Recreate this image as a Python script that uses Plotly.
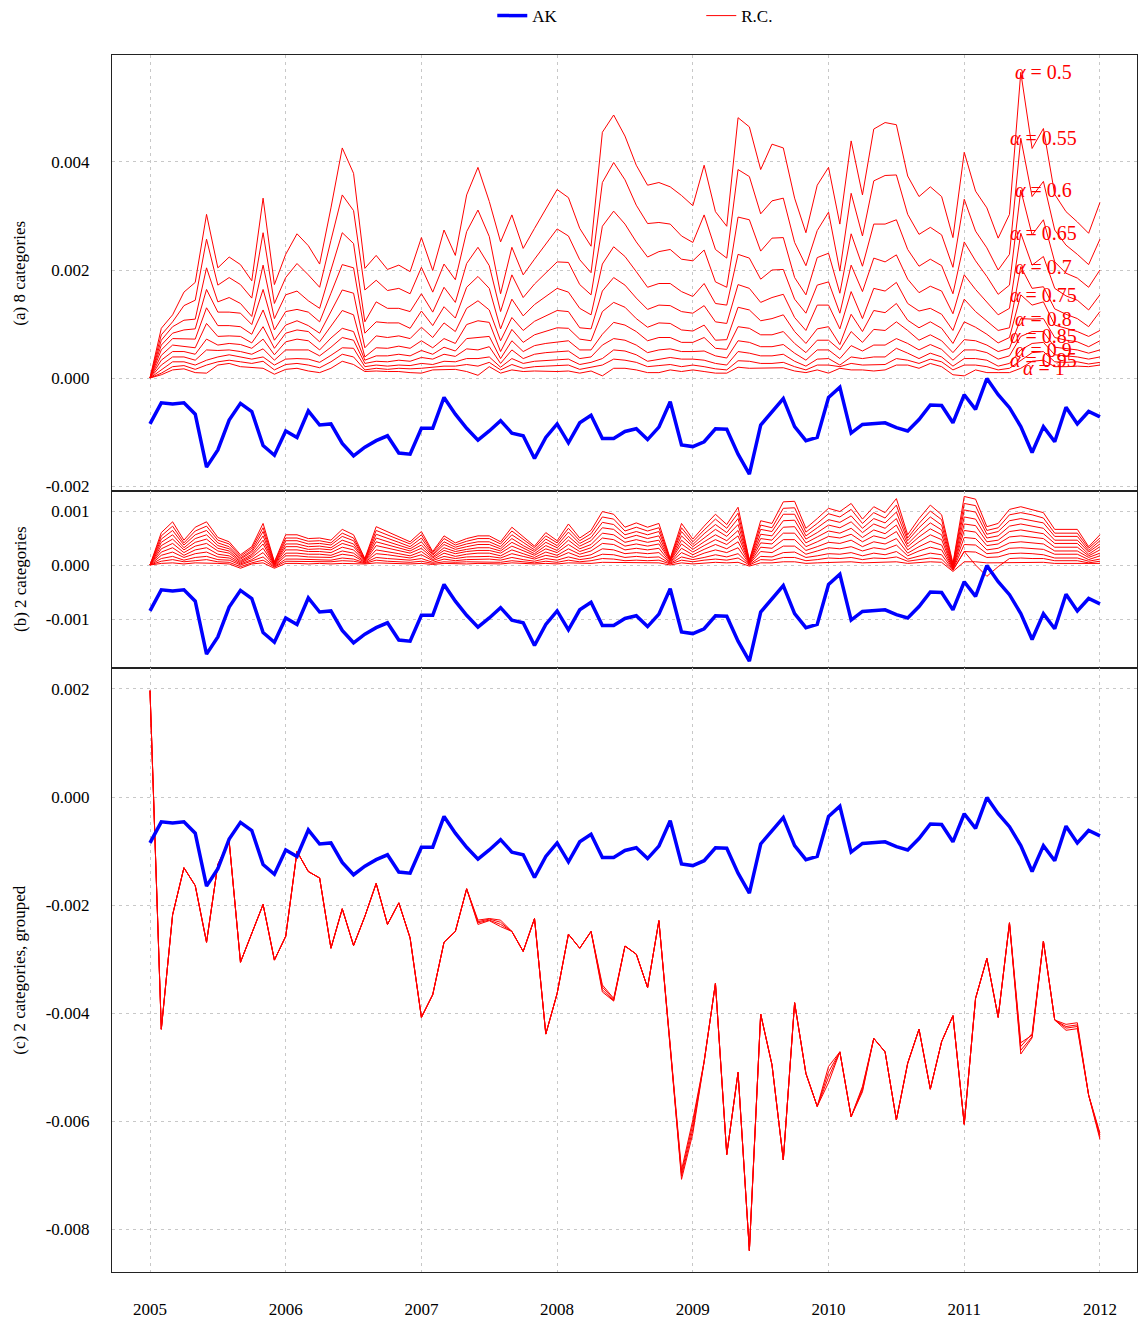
import plotly.graph_objects as go

# ---------------- data (values in units of 1e-5) ----------------
months = [2005 + i / 12 for i in range(85)]  # Jan 2005 .. Jan 2012, monthly
year_ticks = [2005, 2006, 2007, 2008, 2009, 2010, 2011, 2012]
year_labels = ["2005", "2006", "2007", "2008", "2009", "2010", "2011", "2012"]

ak = [-85, -46, -48, -46, -67, -165, -133, -78, -47, -62,
      -125, -143, -98, -110, -61, -87, -85, -121, -144, -128,
      -116, -107, -139, -141, -93, -93, -36, -67, -93, -115,
      -98, -79, -102, -107, -149, -110, -85, -120, -83, -69,
      -112, -112, -99, -94, -114, -91, -44, -124, -127, -118,
      -94, -95, -141, -178, -87, -62, -38, -90, -116, -110,
      -36, -17, -102, -86, -85, -83, -92, -98, -77, -50,
      -51, -83, -31, -58, -1, -31, -55, -90, -138, -90,
      -118, -54, -85, -62, -72]

# panel (a): R.C., 8 categories, one series per alpha
rc_a_050 = [0, 92, 117, 159, 177, 303, 204, 224, 210, 180, 333, 173, 229, 267, 245, 211, 315, 426, 379, 203,
            227, 201, 209, 197, 260, 199, 274, 227, 339, 390, 327, 252, 302, 240, 277, 313, 349, 334, 277, 244,
            455, 487, 448, 394, 357, 362, 354, 338, 319, 394, 308, 281, 482, 465, 386, 433, 426, 333, 269, 357,
            390, 285, 439, 339, 461, 473, 469, 374, 336, 354, 336, 260, 418, 346, 315, 259, 303, 566, 425, 462,
            340, 308, 289, 268, 325]
rc_a_055 = [0, 80, 104, 134, 144, 257, 172, 186, 173, 148, 269, 138, 186, 212, 191, 168, 255, 339, 310, 163,
            181, 162, 166, 156, 205, 159, 211, 182, 271, 311, 262, 156, 242, 191, 220, 248, 276, 263, 219, 195,
            362, 399, 367, 320, 286, 288, 285, 263, 251, 302, 238, 222, 386, 373, 304, 328, 333, 251, 208, 273,
            307, 198, 342, 263, 365, 375, 376, 303, 266, 279, 265, 205, 331, 272, 241, 200, 229, 444, 336, 364,
            274, 246, 229, 210, 257]
rc_a_060 = [0, 70, 95, 107, 109, 204, 141, 149, 138, 114, 209, 110, 154, 161, 143, 129, 200, 269, 249, 104,
            141, 129, 129, 123, 156, 122, 168, 140, 212, 242, 208, 123, 191, 149, 174, 195, 215, 214, 173, 154,
            281, 309, 285, 252, 224, 234, 238, 220, 217, 237, 178, 168, 298, 293, 235, 259, 260, 186, 154, 223,
            231, 157, 267, 207, 285, 285, 293, 238, 207, 220, 208, 156, 252, 217, 188, 155, 172, 348, 265, 293,
            215, 194, 185, 168, 200]
rc_a_065 = [0, 61, 83, 89, 91, 164, 122, 122, 120, 99, 164, 89, 123, 127, 122, 104, 157, 210, 204, 83,
            104, 102, 102, 92, 124, 97, 132, 111, 168, 188, 166, 91, 146, 115, 136, 151, 166, 159, 129, 117,
            211, 243, 225, 197, 168, 175, 175, 160, 151, 175, 138, 135, 229, 222, 183, 200, 201, 146, 120, 172,
            178, 120, 209, 160, 222, 215, 228, 183, 158, 170, 161, 119, 191, 164, 141, 117, 129, 268, 209, 225,
            166, 152, 144, 126, 154]
rc_a_070 = [0, 52, 73, 73, 72, 130, 97, 97, 95, 81, 126, 70, 98, 106, 97, 83, 122, 163, 157, 56,
            78, 75, 78, 73, 94, 75, 102, 86, 129, 143, 126, 69, 112, 88, 105, 115, 125, 123, 93, 91,
            161, 186, 172, 148, 127, 135, 134, 123, 120, 134, 104, 101, 173, 166, 140, 149, 155, 112, 88, 135,
            135, 91, 160, 110, 166, 161, 177, 138, 124, 129, 118, 88, 146, 123, 106, 88, 93, 206, 166, 169,
            128, 118, 110, 95, 123]
rc_a_075 = [0, 42, 61, 59, 56, 101, 77, 78, 77, 65, 95, 55, 83, 89, 86, 67, 95, 125, 117, 39,
            56, 55, 59, 55, 69, 56, 73, 64, 99, 106, 103, 49, 90, 66, 80, 87, 93, 92, 72, 69,
            123, 140, 131, 110, 94, 102, 101, 89, 87, 98, 70, 71, 131, 126, 106, 110, 117, 86, 64, 91,
            95, 62, 118, 86, 125, 121, 138, 107, 93, 104, 92, 64, 104, 94, 81, 65, 75, 154, 135, 141,
            98, 92, 86, 77, 88]
rc_a_080 = [0, 33, 49, 49, 44, 72, 61, 64, 62, 55, 72, 43, 67, 72, 69, 52, 74, 92, 86, 33,
            41, 41, 44, 41, 51, 44, 57, 50, 73, 75, 77, 36, 69, 49, 60, 64, 67, 69, 52, 52,
            81, 103, 98, 86, 69, 75, 75, 66, 66, 75, 55, 53, 95, 92, 80, 80, 86, 64, 47, 70,
            70, 52, 86, 66, 90, 88, 104, 88, 70, 80, 69, 47, 71, 69, 61, 49, 55, 110, 109, 110,
            75, 70, 67, 58, 69]
rc_a_085 = [0, 24, 39, 39, 33, 52, 51, 52, 49, 44, 54, 33, 52, 52, 52, 41, 57, 75, 70, 27,
            31, 30, 33, 31, 38, 35, 44, 40, 54, 52, 58, 27, 52, 36, 44, 47, 49, 50, 36, 39,
            61, 73, 70, 61, 47, 52, 54, 49, 49, 50, 41, 37, 69, 66, 58, 58, 62, 46, 33, 52,
            52, 36, 60, 50, 61, 61, 73, 64, 52, 62, 53, 33, 52, 52, 47, 35, 41, 77, 86, 86,
            57, 55, 52, 46, 52]
rc_a_090 = [0, 15, 30, 30, 24, 33, 39, 43, 39, 35, 39, 24, 35, 36, 35, 29, 42, 56, 55, 21,
            24, 22, 24, 23, 27, 25, 31, 30, 36, 36, 39, 20, 36, 27, 31, 32, 33, 35, 25, 29,
            36, 52, 50, 43, 31, 35, 38, 35, 35, 33, 27, 24, 49, 46, 41, 41, 44, 31, 22, 35,
            36, 24, 39, 36, 39, 39, 55, 46, 36, 46, 39, 22, 36, 36, 33, 22, 27, 52, 64, 66,
            43, 41, 39, 35, 39]
rc_a_095 = [0, 9, 21, 23, 16, 24, 30, 33, 30, 27, 31, 15, 25, 27, 24, 19, 30, 44, 39, 15,
            18, 16, 18, 17, 18, 20, 22, 22, 25, 22, 29, 15, 25, 18, 21, 22, 23, 24, 16, 20,
            24, 35, 33, 29, 21, 23, 25, 21, 24, 21, 17, 15, 32, 31, 27, 27, 29, 21, 15, 24,
            24, 21, 27, 24, 24, 25, 36, 33, 27, 35, 30, 15, 24, 24, 21, 15, 18, 33, 47, 49,
            30, 29, 30, 26, 29]
rc_a_100 = [0, 6, 15, 17, 10, 9, 24, 27, 21, 19, 18, 7, 16, 18, 13, 10, 18, 31, 25, 12,
            13, 12, 12, 10, 9, 15, 15, 16, 12, 5, 21, 9, 15, 12, 13, 12, 12, 13, 9, 13,
            4, 18, 18, 15, 10, 10, 15, 12, 15, 12, 9, 9, 20, 18, 18, 18, 19, 13, 10, 15,
            9, 18, 15, 15, 13, 15, 24, 24, 18, 27, 21, 6, 4, 15, 10, 10, 10, 18, 31, 33,
            21, 21, 22, 21, 24]
alpha_labels = ["0.5", "0.55", "0.6", "0.65", "0.7", "0.75", "0.8", "0.85", "0.9", "0.95", "1"]
label_month = 77  # month whose value each alpha label sits at (Jun 2011 peak)

# panel (b): R.C., 2 categories
rc_b_1 = [0, 60, 80, 46, 70, 80, 51, 43, 19, 34, 77, 6, 56, 56, 49, 50, 46, 66, 56, 12,
          71, 62, 52, 43, 62, 25, 54, 41, 49, 54, 54, 43, 70, 52, 35, 60, 45, 76, 50, 64,
          99, 94, 70, 78, 70, 77, 12, 77, 48, 72, 94, 75, 107, 9, 82, 77, 117, 118, 68, 86,
          105, 99, 114, 85, 108, 97, 123, 56, 86, 111, 93, 3, 127, 122, 71, 77, 103, 108, 103, 97,
          66, 66, 66, 34, 56]
rc_b_2 = [0, 54, 72, 41, 63, 72, 46, 39, 16, 31, 69, 5, 50, 50, 44, 45, 41, 59, 50, 11,
          64, 56, 47, 39, 56, 23, 49, 37, 44, 49, 49, 39, 63, 47, 32, 54, 41, 68, 45, 58,
          89, 85, 63, 70, 63, 69, 11, 69, 43, 65, 85, 68, 96, 8, 74, 69, 105, 106, 61, 77,
          95, 89, 103, 77, 97, 87, 111, 50, 77, 100, 84, 1, 114, 110, 64, 69, 93, 97, 93, 87,
          59, 59, 59, 31, 50]
rc_b_3 = [0, 48, 64, 37, 56, 64, 41, 34, 13, 27, 62, 3, 45, 45, 39, 40, 37, 53, 45, 10,
          57, 50, 42, 34, 50, 20, 43, 33, 39, 43, 43, 34, 56, 42, 28, 48, 36, 61, 40, 51,
          79, 75, 56, 62, 56, 62, 10, 62, 38, 58, 75, 60, 86, 7, 66, 62, 94, 94, 54, 69,
          84, 79, 91, 68, 86, 78, 98, 45, 69, 89, 74, -1, 102, 98, 57, 62, 82, 86, 82, 78,
          53, 53, 53, 27, 45]
rc_b_4 = [0, 42, 56, 32, 49, 56, 36, 30, 11, 24, 54, 2, 39, 39, 34, 35, 32, 46, 39, 9,
          50, 43, 36, 30, 43, 18, 38, 29, 34, 38, 38, 30, 49, 36, 25, 42, 32, 53, 35, 45,
          69, 66, 49, 55, 49, 54, 9, 54, 34, 50, 66, 53, 75, 6, 57, 54, 82, 83, 48, 60,
          74, 69, 80, 60, 76, 68, 86, 39, 60, 78, 65, -3, 89, 85, 50, 54, 72, 76, 72, 68,
          46, 46, 46, 24, 39]
rc_b_5 = [0, 36, 48, 28, 42, 48, 31, 26, 8, 20, 46, 1, 34, 34, 29, 30, 28, 40, 34, 8,
          43, 37, 31, 26, 37, 15, 32, 25, 29, 32, 32, 26, 42, 31, 21, 36, 27, 46, 30, 38,
          59, 56, 42, 47, 42, 46, 8, 46, 29, 43, 56, 45, 64, 5, 49, 46, 70, 71, 41, 52,
          63, 59, 68, 51, 65, 58, 74, 34, 52, 67, 56, -5, 76, 73, 43, 46, 62, 65, 62, 58,
          40, 40, 40, 20, 34]
rc_b_6 = [0, 30, 40, 23, 35, 40, 26, 22, 6, 17, 39, 0, 28, 28, 25, 25, 23, 33, 28, 7,
          36, 31, 26, 22, 31, 13, 27, 21, 25, 27, 27, 22, 35, 26, 18, 30, 23, 38, 25, 32,
          50, 47, 35, 39, 35, 39, 7, 39, 24, 36, 47, 38, 54, 4, 41, 39, 59, 59, 34, 43,
          53, 50, 57, 43, 54, 49, 62, 28, 43, 56, 47, -6, 64, 61, 36, 39, 52, 54, 52, 49,
          33, 33, 33, 17, 28]
rc_b_7 = [0, 24, 32, 18, 28, 32, 20, 17, 4, 14, 31, -1, 22, 22, 20, 20, 18, 26, 22, 6,
          28, 25, 21, 17, 25, 10, 22, 16, 20, 22, 22, 17, 28, 21, 14, 24, 18, 30, 20, 26,
          40, 38, 28, 31, 28, 31, 5, 31, 19, 29, 38, 30, 43, 3, 33, 31, 47, 47, 27, 34,
          42, 40, 46, 34, 43, 39, 49, 22, 34, 44, 37, -7, 51, 49, 28, 31, 41, 43, 41, 39,
          26, 26, 26, 14, 22]
rc_b_8 = [0, 18, 24, 14, 21, 24, 15, 13, 2, 10, 23, -2, 17, 17, 15, 15, 14, 20, 17, 5,
          21, 19, 16, 13, 19, 8, 16, 12, 15, 16, 16, 13, 21, 16, 11, 18, 14, 23, 15, 19,
          30, 28, 21, 23, 21, 23, 4, 23, 14, 22, 28, 23, 32, 2, 25, 23, 35, 35, 20, 26,
          32, 30, 34, 26, 32, 29, 37, 17, 26, 33, 28, -8, 38, 37, 21, 23, 31, 32, 31, 29,
          20, 20, 20, 10, 17]
rc_b_9 = [0, 12, 16, 9, 14, 16, 10, 9, 0, 7, 15, -3, 11, 11, 10, 10, 9, 13, 11, 4,
          14, 12, 10, 9, 12, 5, 11, 8, 10, 11, 11, 9, 14, 10, 7, 12, 9, 15, 10, 13,
          20, 19, 14, 16, 14, 15, 3, 15, 10, 14, 19, 15, 21, 1, 16, 15, 23, 24, 14, 17,
          21, 20, 23, 17, 22, 19, 25, 11, 17, 22, 19, -9, 25, 24, 14, 15, 21, 22, 21, 19,
          13, 13, 13, 7, 11]
rc_b_10 = [0, 7, 10, 6, 8, 10, 6, 5, -3, 4, 9, -4, 7, 7, 6, 6, 6, 8, 7, 3,
           9, 7, 6, 5, 7, 3, 6, 5, 6, 6, 6, 5, 8, 6, 4, 7, 5, 9, 6, 8,
           12, 11, 8, 9, 8, 9, 2, 9, 6, 9, 11, 9, 13, 0, 10, 9, 14, 14, 8, 10,
           13, 12, 14, 10, 13, 12, 15, 7, 10, 13, 11, -10, 25, 0, -21, -3, 12, 13, 12, 12,
           8, 8, 8, 4, 7]
rc_b_11 = [0, 3, 4, 2, 4, 4, 3, 2, -6, 2, 4, -6, 3, 3, 2, 3, 2, 3, 3, 2,
           4, 3, 3, 2, 3, 1, 3, 2, 2, 3, 3, 2, 4, 3, 2, 3, 2, 4, 3, 3,
           5, 5, 4, 4, 4, 4, 0, 4, 2, 4, 5, 4, 5, -2, 4, 4, 6, 6, 3, 4,
           5, 5, 6, 4, 5, 5, 6, 3, 4, 6, 5, -12, 6, 6, 4, 4, 5, 5, 5, 5,
           3, 3, 3, 2, 3]

# panel (c): R.C., 2 categories, grouped
rc_c_1 = [197, -430, -218, -131, -164, -269, -125, -82, -306, -252,
          -199, -302, -258, -101, -138, -150, -280, -207, -275, -221,
          -160, -236, -196, -261, -408, -366, -269, -249, -170, -228,
          -225, -228, -249, -286, -225, -439, -364, -254, -280, -249,
          -348, -373, -276, -291, -353, -229, -460, -708, -623, -490,
          -345, -662, -510, -840, -402, -496, -672, -381, -512, -573,
          -499, -472, -592, -536, -447, -472, -598, -493, -430, -541,
          -453, -405, -606, -373, -299, -408, -233, -462, -438, -267,
          -413, -425, -422, -552, -626]
rc_c_2 = [197, -430, -218, -131, -164, -269, -125, -82, -306, -252,
          -199, -302, -258, -101, -138, -150, -280, -207, -275, -221,
          -160, -236, -196, -261, -408, -366, -269, -249, -170, -231,
          -226, -232, -249, -286, -225, -439, -364, -254, -280, -249,
          -352, -375, -276, -291, -353, -229, -460, -702, -615, -490,
          -345, -662, -510, -840, -402, -496, -672, -381, -512, -573,
          -509, -472, -592, -539, -447, -472, -598, -493, -430, -541,
          -453, -405, -606, -373, -299, -408, -233, -455, -441, -267,
          -413, -421, -418, -552, -622]
rc_c_3 = [197, -430, -218, -131, -164, -269, -125, -82, -306, -252,
          -199, -302, -258, -101, -138, -150, -280, -207, -275, -221,
          -160, -236, -196, -261, -408, -366, -269, -249, -170, -233,
          -228, -236, -249, -286, -225, -439, -364, -254, -280, -249,
          -357, -377, -276, -291, -353, -229, -460, -697, -606, -490,
          -345, -662, -510, -840, -402, -496, -672, -381, -512, -573,
          -519, -472, -592, -543, -447, -472, -598, -493, -430, -541,
          -453, -405, -606, -373, -299, -408, -233, -469, -444, -267,
          -413, -428, -425, -552, -630]
rc_c_4 = [197, -430, -218, -131, -164, -269, -125, -82, -306, -252,
          -199, -302, -258, -101, -138, -150, -280, -207, -275, -221,
          -160, -236, -196, -261, -408, -366, -269, -249, -170, -236,
          -229, -240, -249, -286, -225, -439, -364, -254, -280, -249,
          -361, -378, -276, -291, -353, -229, -460, -691, -598, -490,
          -345, -662, -510, -840, -402, -496, -672, -381, -512, -573,
          -529, -472, -592, -546, -447, -472, -598, -493, -430, -541,
          -453, -405, -606, -373, -299, -408, -233, -476, -446, -267,
          -413, -432, -429, -552, -634]

# y ticks (values in 1e-5 units, labels in original units)
ticks_a = [-200, 0, 200, 400]
labels_a = ["-0.002", "0.000", "0.002", "0.004"]
ticks_b = [-100, 0, 100]
labels_b = ["-0.001", "0.000", "0.001"]
ticks_c = [-800, -600, -400, -200, 0, 200]
labels_c = ["-0.008", "-0.006", "-0.004", "-0.002", "0.000", "0.002"]

# ---------------- figure ----------------
RED = "#ff0000"
BLUE = "#0000ff"
FONT = "Liberation Serif"

fig = go.Figure()

rc_a = [rc_a_050, rc_a_055, rc_a_060, rc_a_065, rc_a_070, rc_a_075,
        rc_a_080, rc_a_085, rc_a_090, rc_a_095, rc_a_100]
rc_b = [rc_b_1, rc_b_2, rc_b_3, rc_b_4, rc_b_5, rc_b_6, rc_b_7, rc_b_8, rc_b_9, rc_b_10, rc_b_11]
rc_c = [rc_c_1, rc_c_2, rc_c_3, rc_c_4]

first_rc = True
for axes, series in (("y", rc_a), ("y2", rc_b), ("y3", rc_c)):
    xa = {"y": "x", "y2": "x2", "y3": "x3"}[axes]
    for s in series:
        fig.add_trace(go.Scatter(
            x=months, y=s, mode="lines", xaxis=xa, yaxis=axes,
            line=dict(color=RED, width=1), name="R.C.", legendgroup="rc",
            showlegend=first_rc, legendrank=2, hoverinfo="skip"))
        first_rc = False

for i, (xa, ya) in enumerate((("x", "y"), ("x2", "y2"), ("x3", "y3"))):
    fig.add_trace(go.Scatter(
        x=months, y=ak, mode="lines", xaxis=xa, yaxis=ya,
        line=dict(color=BLUE, width=3.5), name="AK", legendgroup="ak",
        showlegend=(i == 0), legendrank=1, hoverinfo="skip"))

# alpha labels in panel (a)
for s, lab in zip(rc_a, alpha_labels):
    fig.add_annotation(x=2011.585, y=s[label_month], xref="x", yref="y",
                       text=f"<i>α</i> = {lab}", showarrow=False,
                       xanchor="center", yanchor="middle",
                       font=dict(family=FONT, size=20, color=RED))

# y axis titles
for text, ypos in (("(a) 8 categories", 0.8211), ("(b) 2 categories", 0.5694),
                   ("(c) 2 categories, grouped", 0.2484)):
    fig.add_annotation(x=-0.0898, y=ypos, xref="paper", yref="paper", text=text,
                       textangle=-90, showarrow=False, xanchor="center", yanchor="middle",
                       font=dict(family=FONT, size=17, color="black"))

xrange = [2004.720, 2012.273]
grid = dict(showgrid=True, gridcolor="#c8c8c8", griddash="3px,4px", gridwidth=1,
            zeroline=False, showline=True, mirror=True, linecolor="#222222", linewidth=1,
            ticks="", automargin=False)

common_x = dict(range=xrange, tickvals=year_ticks, ticktext=year_labels, **grid)
fig.update_layout(
    xaxis=dict(domain=[0, 1], anchor="y", showticklabels=False, **common_x),
    xaxis2=dict(domain=[0, 1], anchor="y2", matches="x", showticklabels=False, **common_x),
    xaxis3=dict(domain=[0, 1], anchor="y3", matches="x", showticklabels=True,
                ticklabelstandoff=22, **common_x),
    yaxis=dict(domain=[0.64215, 1], anchor="x", range=[-208.3, 598.1],
               tickvals=ticks_a, ticktext=labels_a, ticklabelstandoff=18, **grid),
    yaxis2=dict(domain=[0.49671, 0.64215], anchor="x2", range=[-189.8, 138.0],
                tickvals=ticks_b, ticktext=labels_b, ticklabelstandoff=18, **grid),
    yaxis3=dict(domain=[0, 0.49671], anchor="x3", range=[-879.6, 239.8],
                tickvals=ticks_c, ticktext=labels_c, ticklabelstandoff=18, **grid),
)

fig.update_layout(
    width=1138, height=1318,
    margin=dict(l=112, r=1, t=55, b=46, autoexpand=False),
    plot_bgcolor="white", paper_bgcolor="white",
    font=dict(family=FONT, size=17, color="black"),
    showlegend=True,
    legend=dict(orientation="h", x=0.371, xanchor="left", y=1.032, yanchor="middle",
                entrywidth=164, entrywidthmode="pixels",
                font=dict(family=FONT, size=17, color="black"),
                bgcolor="rgba(0,0,0,0)"),
)

# the page's default body margin would offset the figure; remove it
fig.write_html("out.html",
               config={"displayModeBar": False},
               post_script="document.body.style.margin='0px';document.body.style.overflow='hidden';")
